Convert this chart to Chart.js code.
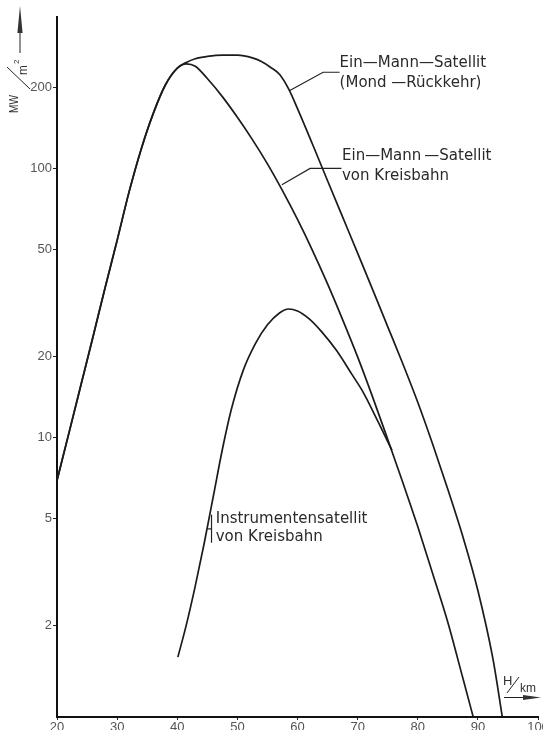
<!DOCTYPE html>
<html lang="de">
<head>
<meta charset="utf-8">
<title>Wärmestromdichte beim Wiedereintritt</title>
<script src="https://cdn.jsdelivr.net/npm/chart.js@4.4.1/dist/chart.umd.min.js"></script>
<style>
  html, body { margin: 0; padding: 0; background: #fff; }
  #wrap { position: relative; width: 543px; height: 730px; }
</style>
</head>
<body>
<div id="wrap"><canvas id="chart"></canvas></div>
<script>
// Flughöhe H (km) und Wärmestromdichte (MW/m²) je Flugbahn
const hoeheMond  = [20, 22, 24, 26, 28, 30, 32, 34, 36, 38, 40, 41.5, 43, 45, 47.5, 50, 52.5, 54, 55.5, 57, 58.5, 60, 62.5, 65, 67.5, 70, 72.5, 75, 77.5, 80, 82.5, 85, 87.5, 90, 92.5, 94.1];
const waermeMond = [6.9, 10.4, 15.7, 23.7, 36, 54, 82, 118, 160, 204, 236, 248, 256, 261, 264, 264, 258, 250, 238, 224, 198, 167, 123, 90, 66, 48.4, 35.4, 25.8, 18.8, 13.5, 9.4, 6.4, 4.27, 2.69, 1.5, 0.9];

const hoeheKreis  = [20, 22, 24, 26, 28, 30, 32, 34, 36, 38, 40, 41.5, 43, 45, 47.5, 50, 52.5, 55, 57.5, 60, 62.5, 65, 67.5, 70, 72.5, 75, 77.5, 80, 82.5, 85, 87.5, 89.4];
const waermeKreis = [6.9, 10.4, 15.7, 23.7, 36, 54, 82, 118, 160, 204, 236, 245, 240, 216, 185, 155, 128, 104, 82.7, 64.6, 49.5, 37.2, 27.4, 19.9, 14.1, 9.83, 6.8, 4.65, 3.1, 2.05, 1.27, 0.88];

const hoeheInstr  = [40.1, 41.5, 43, 44.5, 46, 47.5, 49, 51, 53, 55, 57, 58.5, 60, 62, 64, 66.5, 69, 71, 73.5, 75.7];
const waermeInstr = [1.52, 2.0, 2.8, 4.05, 6.03, 9.0, 12.7, 17.8, 22.3, 26.2, 29.0, 30.0, 29.5, 27.5, 24.7, 21.0, 17.2, 14.6, 11.3, 8.95];

// Achsteilung
const hoeheTicks  = [20, 30, 40, 50, 60, 70, 80, 90, 100];
const waermeTicks = [2, 5, 10, 20, 50, 100, 200];

const punkte = (xs, ys) => xs.map((x, i) => ({ x, y: ys[i] }));

// Beschriftungen der Kurven mit Hinweislinien (in Achsenwerten)
const beschriftungen = [
  { zeilen: ['Ein\u2014Mann\u2014Satellit', '(Mond \u2014R\u00fcckkehr)'],
    x: 67.0, y: [247, 207],
    linie: [[58.72, 195], [64.26, 228], [67.0, 228]] },
  { zeilen: ['Ein\u2014Mann\u2009\u2014Satellit', 'von Kreisbahn'],
    x: 67.4, y: [111, 94],
    linie: [[57.4, 86.9], [62.1, 100], [67.3, 100]] },
  { zeilen: ['Instrumentensatellit', 'von Kreisbahn'],
    x: 46.4, y: [4.94, 4.24],
    linie: [[45.0, 4.56], [45.7, 4.56]],
    klammer: [45.7, 5.15, 4.05] }
];

const kurvenPlugin = {
  id: 'kurvenBeschriftung',
  afterDatasetsDraw(chart) {
    const { ctx } = chart;
    const sx = chart.scales.x, sy = chart.scales.y;
    const px = v => sx.getPixelForValue(v);
    const py = v => sy.getPixelForValue(v);
    ctx.save();
    ctx.strokeStyle = '#222';
    ctx.lineWidth = 1.2;
    ctx.fillStyle = '#2a2a2a';
    ctx.font = '15px "DejaVu Sans"';
    ctx.textBaseline = 'middle';
    ctx.textAlign = 'left';
    beschriftungen.forEach(b => {
      ctx.beginPath();
      b.linie.forEach(([x, y], i) => {
        if (i === 0) ctx.moveTo(px(x), py(y)); else ctx.lineTo(px(x), py(y));
      });
      ctx.stroke();
      if (b.klammer) {
        const [kx, y1, y2] = b.klammer;
        ctx.beginPath();
        ctx.moveTo(px(kx), py(y1));
        ctx.lineTo(px(kx), py(y2));
        ctx.stroke();
      }
      b.zeilen.forEach((z, i) => ctx.fillText(z, px(b.x), py(b.y[i])));
    });
    ctx.restore();
  }
};

// Achsentitel mit Pfeilen: MW/m² (senkrecht) und H/km (waagerecht)
const titelPlugin = {
  id: 'achsenTitel',
  afterDraw(chart) {
    const { ctx, chartArea: a } = chart;
    ctx.save();
    ctx.fillStyle = '#333';
    ctx.strokeStyle = '#222';

    // senkrechter Pfeil
    const ax = a.left - 37;
    ctx.lineWidth = 1;
    ctx.beginPath();
    ctx.moveTo(ax, a.top + 36);
    ctx.lineTo(ax, a.top + 14);
    ctx.stroke();
    ctx.beginPath();
    ctx.moveTo(ax, a.top - 11);
    ctx.lineTo(ax - 2.6, a.top + 16);
    ctx.lineTo(ax + 2.6, a.top + 16);
    ctx.closePath();
    ctx.fill();

    // MW/m² gedreht
    ctx.save();
    ctx.translate(a.left - 39, a.top + 96);
    ctx.rotate(-Math.PI / 2);
    ctx.textBaseline = 'alphabetic';
    ctx.font = '13px "Liberation Sans"';
    ctx.save(); ctx.scale(0.78, 1); ctx.fillText('MW', 0, 0); ctx.restore();
    ctx.lineWidth = 1;
    ctx.beginPath();
    ctx.moveTo(24, 12);
    ctx.lineTo(46, -11);
    ctx.stroke();
    ctx.save(); ctx.translate(38, 9); ctx.scale(0.9, 1); ctx.fillText('m', 0, 0); ctx.restore();
    ctx.font = '8px "Liberation Sans"';
    ctx.fillText('2', 49, 1);
    ctx.restore();

    // H/km mit Pfeil
    const r = a.right, b = a.bottom;
    ctx.font = '13px "Liberation Sans"';
    ctx.textBaseline = 'alphabetic';
    ctx.fillText('H', r - 35, b - 32);
    ctx.lineWidth = 1;
    ctx.beginPath();
    ctx.moveTo(r - 31, b - 24);
    ctx.lineTo(r - 19, b - 40);
    ctx.stroke();
    ctx.font = '12px "Liberation Sans"';
    ctx.fillText('km', r - 18, b - 25);
    ctx.beginPath();
    ctx.moveTo(r - 34, b - 19.5);
    ctx.lineTo(r - 14, b - 19.5);
    ctx.stroke();
    ctx.beginPath();
    ctx.moveTo(r + 3, b - 19.5);
    ctx.lineTo(r - 15, b - 22);
    ctx.lineTo(r - 15, b - 17);
    ctx.closePath();
    ctx.fill();
    ctx.restore();
  }
};

const linie = { showLine: true, borderColor: '#1b1b1b', borderWidth: 1.7, pointRadius: 0, cubicInterpolationMode: 'monotone', fill: false };

new Chart(document.getElementById('chart'), {
  type: 'scatter',
  data: {
    datasets: [
      Object.assign({ label: 'Ein-Mann-Satellit (Mond-Rückkehr)', data: punkte(hoeheMond, waermeMond) }, linie),
      Object.assign({ label: 'Ein-Mann-Satellit von Kreisbahn', data: punkte(hoeheKreis, waermeKreis) }, linie),
      Object.assign({ label: 'Instrumentensatellit von Kreisbahn', data: punkte(hoeheInstr, waermeInstr) }, linie)
    ]
  },
  options: {
    responsive: true,
    maintainAspectRatio: false,
    animation: false,
    layout: { padding: { top: 17, right: 5, left: 0, bottom: 0 } },
    plugins: { legend: { display: false }, tooltip: { enabled: false } },
    scales: {
      x: {
        type: 'linear', min: 20, max: 100,
        afterBuildTicks: s => { s.ticks = hoeheTicks.map(v => ({ value: v })); },
        afterFit: s => { s.height = 13; s.paddingLeft = 0; s.paddingRight = 0; },
        grid: { drawOnChartArea: false, drawTicks: true, tickLength: 3, color: '#222' },
        border: { color: '#111', width: 2 },
        ticks: { padding: 0, color: '#555', maxRotation: 0, autoSkip: false,
                 font: { family: 'Liberation Sans', size: 13 } }
      },
      y: {
        type: 'logarithmic', min: 0.91, max: 366,
        afterBuildTicks: s => { s.ticks = waermeTicks.map(v => ({ value: v })); },
        afterFit: s => { s.width = 57; s.paddingTop = 0; s.paddingBottom = 0; },
        grid: { drawOnChartArea: false, drawTicks: true, tickLength: 4, color: '#222' },
        border: { color: '#111', width: 2 },
        ticks: { padding: 1, color: '#555', autoSkip: false,
                 callback: v => String(v),
                 font: { family: 'Liberation Sans', size: 13 } }
      }
    }
  },
  plugins: [kurvenPlugin, titelPlugin]
});
</script>
</body>
</html>
